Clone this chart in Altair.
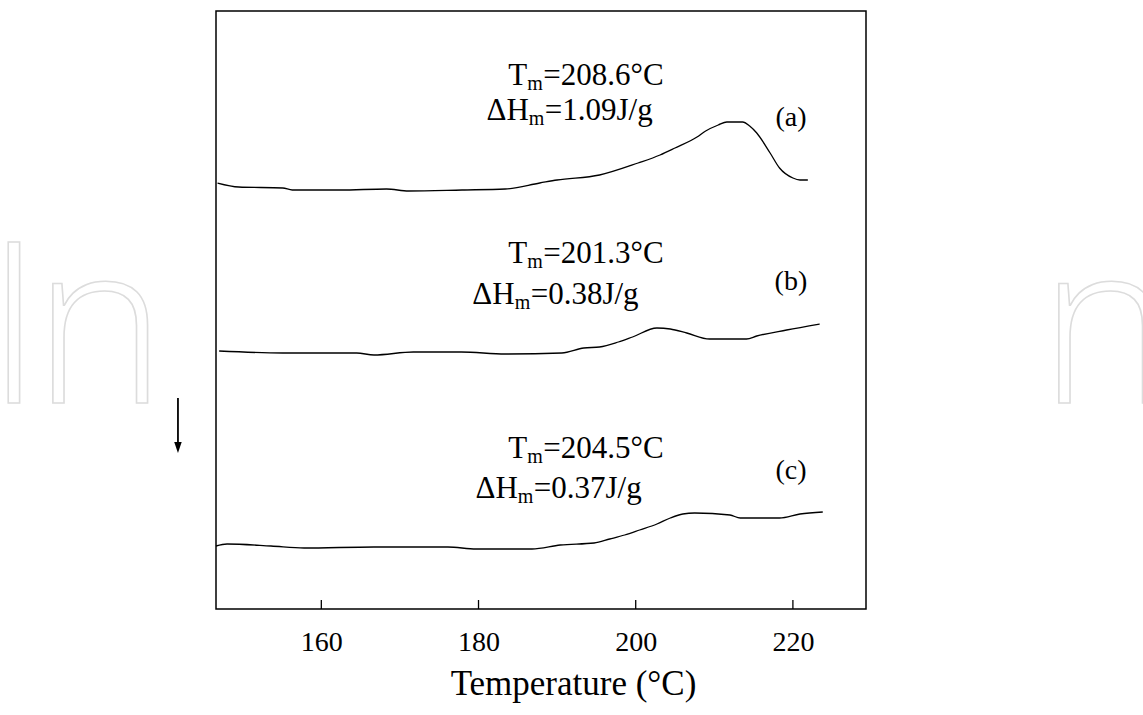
import altair as alt
import pandas as pd

# ---- data (temperature in °C, heat-flow signal in arbitrary units) ----
a_T = [146.8, 149.5, 155.1, 156.3, 162.4, 168.3, 171.1, 177.9, 183.4, 187.8, 190.0, 195.4,
       200.3, 203.1, 205.0, 207.8, 208.9, 210.5, 211.6, 213.6, 214.5, 215.4, 217.1, 218.3,
       220.0, 220.9, 221.9]
a_v = [42.6, 42.2, 42.1, 41.9, 41.9, 42.0, 41.8, 41.9, 42.0, 42.6, 42.9, 43.4,
       44.6, 45.4, 46.1, 47.2, 47.8, 48.4, 48.7, 48.7, 48.3, 47.6, 45.6, 44.1,
       43.1, 42.9, 42.9]

b_T = [147.0, 155.1, 164.5, 166.7, 171.7, 177.8, 183.4, 190.6, 193.4, 195.4, 197.8, 199.6,
       202.7, 204.4, 206.5, 209.4, 214.1, 215.4, 219.2, 223.4]
b_v = [25.8, 25.6, 25.6, 25.4, 25.7, 25.7, 25.5, 25.6, 26.1, 26.2, 26.7, 27.2,
       28.1, 28.0, 27.6, 27.0, 27.0, 27.3, 27.9, 28.5]

c_T = [146.6, 148.0, 153.6, 157.8, 166.7, 176.1, 179.7, 186.8, 190.4, 194.7, 196.7, 198.6,
       200.5, 202.7, 204.4, 206.0, 207.5, 212.0, 213.3, 218.3, 220.9, 223.8]
c_v = [6.3, 6.5, 6.3, 6.1, 6.2, 6.2, 6.0, 6.0, 6.4, 6.6, 7.0, 7.4,
       7.9, 8.5, 9.1, 9.5, 9.6, 9.4, 9.1, 9.1, 9.5, 9.7]

x_ticks = [160, 180, 200, 220]

# annotation lines: prefix, subscript, rest, anchor temperature, baseline signal
ann_main = ["T", "ΔH", "T", "ΔH", "T", "ΔH"]
ann_rest = ["=208.6°C", "=1.09J/g", "=201.3°C", "=0.38J/g", "=204.5°C", "=0.37J/g"]
ann_T = [186.2, 186.4, 186.2, 184.6, 186.2, 185.0]
ann_v = [52.4, 48.9, 34.6, 30.5, 15.1, 11.1]

lab_text = ["(a)", "(b)", "(c)"]
lab_T = [219.75, 219.75, 219.75]
lab_v = [49.1, 32.7, 13.8]

# downward arrow (left of the frame)
arrow_T = 141.76
arrow_top = 21.1
arrow_head = 16.2

# faint watermark letters
wm_text = ["I", "n", "n"]
wm_T = [120.9, 131.8, 259.8]
wm_v = [20.6, 20.6, 20.6]

X_DOMAIN = [146.6, 229.3]
Y_DOMAIN = [0, 59.8]
SERIF = "Liberation Serif, Times New Roman, Times, serif"

# ---- tables ----
curves = pd.concat([
    pd.DataFrame({"T": a_T, "v": a_v, "curve": "a"}),
    pd.DataFrame({"T": b_T, "v": b_v, "curve": "b"}),
    pd.DataFrame({"T": c_T, "v": c_v, "curve": "c"}),
])
ann = pd.DataFrame({"T": ann_T, "v": ann_v, "main": ann_main, "rest": ann_rest, "sub": "m"})
labs = pd.DataFrame({"T": lab_T, "v": lab_v, "text": lab_text})
ticks = pd.DataFrame({"T": x_ticks, "v0": 0.0, "v1": 0.9})
arrow = pd.DataFrame({"T": [arrow_T], "v0": [arrow_top], "v1": [arrow_head]})
wm = pd.DataFrame({"T": wm_T, "v": wm_v, "text": wm_text})

xs = alt.Scale(domain=X_DOMAIN, nice=False, zero=False)
ys = alt.Scale(domain=Y_DOMAIN, nice=False, zero=False)

x_axis = alt.Axis(
    values=x_ticks, format="d", grid=False, ticks=False, domain=False,
    labelFont=SERIF, labelFontSize=28, labelColor="black", labelPadding=19,
    title="Temperature (°C)", titleFont=SERIF, titleFontSize=35,
    titleFontWeight="normal", titleColor="black", titleX=357, titleY=85,
    titleBaseline="alphabetic",
)

X = alt.X("T:Q", scale=xs, axis=x_axis)

lines = alt.Chart(curves).mark_line(
    color="black", strokeWidth=1.3, interpolate="monotone"
).encode(
    x=X,
    y=alt.Y("v:Q", scale=ys, axis=None),
    detail="curve:N",
)

tick_marks = alt.Chart(ticks).mark_rule(color="black", strokeWidth=1.3).encode(
    x=X,
    y=alt.Y("v0:Q", scale=ys, axis=None),
    y2="v1:Q",
)

t_main = alt.Chart(ann).mark_text(
    align="right", baseline="alphabetic", font=SERIF, fontSize=31, color="black"
).encode(x=X, y=alt.Y("v:Q", scale=ys, axis=None), text="main:N")

t_sub = alt.Chart(ann).mark_text(
    align="left", baseline="alphabetic", font=SERIF, fontSize=20, dy=5, color="black"
).encode(x=X, y=alt.Y("v:Q", scale=ys, axis=None), text="sub:N")

t_rest = alt.Chart(ann).mark_text(
    align="left", baseline="alphabetic", font=SERIF, fontSize=31, dx=16, color="black"
).encode(x=X, y=alt.Y("v:Q", scale=ys, axis=None), text="rest:N")

t_lab = alt.Chart(labs).mark_text(
    align="center", baseline="middle", font=SERIF, fontSize=28, color="black"
).encode(x=X, y=alt.Y("v:Q", scale=ys, axis=None), text="text:N")

arrow_line = alt.Chart(arrow).mark_rule(color="black", strokeWidth=1.8, clip=False).encode(
    x=X,
    y=alt.Y("v0:Q", scale=ys, axis=None),
    y2="v1:Q",
)
arrow_tip = alt.Chart(arrow).mark_point(
    shape="M-0.75,-1L0.75,-1L0,1.2Z", filled=True, color="black", opacity=1,
    size=100, clip=False,
).encode(x=X, y=alt.Y("v1:Q", scale=ys, axis=None))

watermark = alt.Chart(wm).mark_text(
    align="center", baseline="alphabetic", font="Open Sans", fontSize=226,
    fontWeight=300, fill="transparent", stroke="#dcdcdc", strokeWidth=1.6, clip=False,
).encode(x=X, y=alt.Y("v:Q", scale=ys, axis=None), text="text:N")

chart = alt.layer(
    lines, watermark, tick_marks, t_main, t_sub, t_rest, t_lab, arrow_line, arrow_tip
).properties(
    width=650, height=598,
    padding={"left": 216, "top": 11, "right": 277, "bottom": 106},
    autosize=alt.AutoSizeParams(type="none"),
    background="white",
).configure_view(stroke="black", strokeWidth=1.5)

chart.save("out.html", embed_options={"renderer": "svg", "actions": False})
